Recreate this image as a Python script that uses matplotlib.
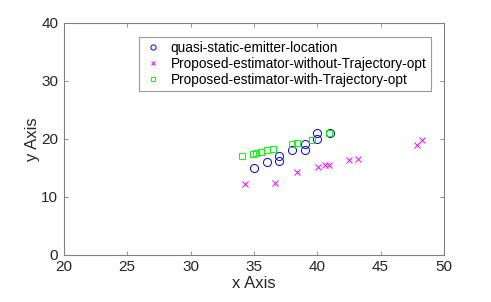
import numpy as np
import matplotlib.pyplot as plt

plt.rcParams['font.family'] = ['Liberation Sans', 'DejaVu Sans']

# quasi-static emitter locations
emit_x = [35.0, 36.0, 37.0, 37.0, 38.0, 39.0, 39.0, 40.0, 40.0, 41.0]
emit_y = [15.0, 16.0, 17.0, 16.1, 18.0, 19.05, 18.0, 21.0, 20.0, 21.0]

# estimator without trajectory optimisation
noopt_x = [34.3, 36.7, 38.4, 40.1, 40.6, 40.9, 42.55, 43.2, 47.9, 48.3]
noopt_y = [12.2, 12.4, 14.3, 15.1, 15.4, 15.55, 16.3, 16.6, 19.0, 19.85]

# estimator with trajectory optimisation
opt_x = [34.1, 34.9, 35.2, 35.55, 36.05, 36.5, 38.0, 38.4, 39.6, 40.95]
opt_y = [17.1, 17.4, 17.6, 17.8, 18.0, 18.3, 19.05, 19.2, 19.85, 21.05]

labels = ['quasi-static-emitter-location',
          'Proposed-estimator-without-Trajectory-opt',
          'Proposed-estimator-with-Trajectory-opt']

fig = plt.figure(figsize=(4.91, 3.02), dpi=100)
ax = fig.add_axes([0.130, 0.156, 0.774, 0.769])

ax.plot(emit_x, emit_y, linestyle='none', marker='o', markerfacecolor='none',
        markeredgecolor='#0000ff', markersize=5.8, markeredgewidth=0.7, label=labels[0])
ax.plot(noopt_x, noopt_y, linestyle='none', marker='x', color='#ff00ff',
        markersize=4, markeredgewidth=0.7, label=labels[1])
ax.plot(opt_x, opt_y, linestyle='none', marker='s', markerfacecolor='none',
        markeredgecolor='#00ff00', markersize=4.2, markeredgewidth=0.7, label=labels[2])

ax.set_xlim(20, 50)
ax.set_ylim(0, 40)
ax.set_xticks(np.arange(20, 51, 5))
ax.set_yticks(np.arange(0, 41, 10))
ax.set_xlabel('x Axis', fontsize=12, color='#262626', labelpad=1)
ax.set_ylabel('y Axis', fontsize=12, color='#262626', labelpad=1)

for s in ax.spines.values():
    s.set_color('#808080')
    s.set_linewidth(0.8)
ax.tick_params(direction='in', length=3, width=0.6, color='#808080',
               labelcolor='#262626', labelsize=11, top=True, right=True)
ax.tick_params(axis='x', pad=4)
ax.tick_params(axis='y', pad=4)

leg = ax.legend(loc='upper right', bbox_to_anchor=(0.983, 0.969), fontsize=9.8,
                frameon=True, fancybox=False, edgecolor='#808080',
                handlelength=1.4, handletextpad=0.6, borderpad=0.3,
                labelspacing=0.15, markerscale=0.65)
leg.get_frame().set_linewidth(0.8)

fig.savefig('out.png', dpi=100)
